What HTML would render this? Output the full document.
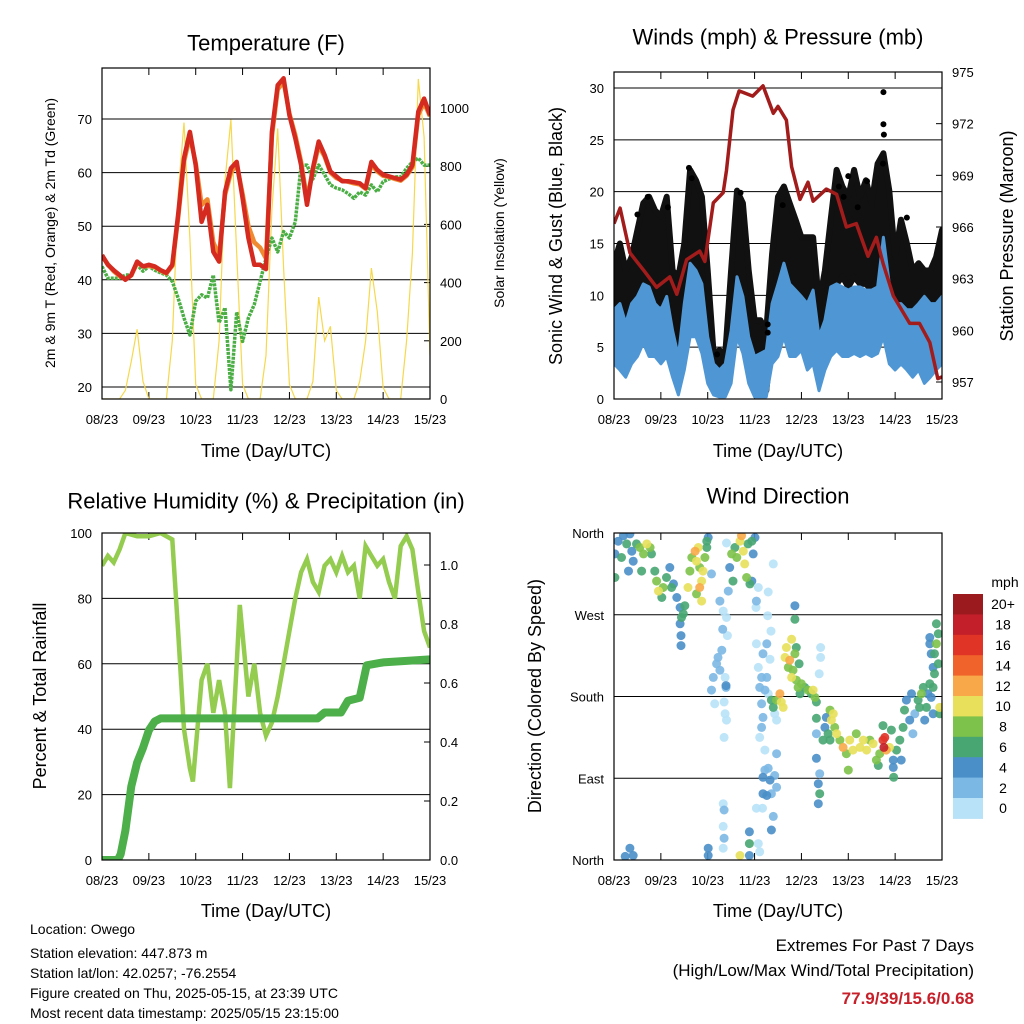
<!DOCTYPE html>
<html><head><meta charset="utf-8">
<style>
html,body{margin:0;padding:0;background:#fff;}
svg{display:block;font-family:"Liberation Sans",sans-serif;}
</style></head>
<body>
<svg id="s" width="1024" height="1024" viewBox="0 0 1024 1024" xmlns="http://www.w3.org/2000/svg">
<rect width="1024" height="1024" fill="#fff"/>
<g id="p1"></g>
<g id="p2"></g>
<g id="p3"></g>
<g id="p4"></g>
<g font-size="14" fill="#000">
<text x="30" y="934">Location: Owego</text>
<text x="30" y="958">Station elevation: 447.873 m</text>
<text x="30" y="978">Station lat/lon: 42.0257; -76.2554</text>
<text x="30" y="998">Figure created on Thu, 2025-05-15, at 23:39 UTC</text>
<text x="30" y="1018">Most recent data timestamp: 2025/05/15 23:15:00</text>
</g>
<g font-size="17" text-anchor="end">
<text x="974" y="951">Extremes For Past 7 Days</text>
<text x="974" y="976">(High/Low/Max Wind/Total Precipitation)</text>
<text x="974" y="1004" font-weight="bold" fill="#c8202a">77.9/39/15.6/0.68</text>
</g>
</svg>
<script>
const xTickLabels = ["08/23","09/23","10/23","11/23","12/23","13/23","14/23","15/23"];
const t8 = [0,0.125,0.25,0.375,0.5,0.625,0.75,0.875,1,1.125,1.25,1.375,1.5,1.625,1.75,1.875,2,2.125,2.25,2.375,2.5,2.625,2.75,2.875,3,3.125,3.25,3.375,3.5,3.625,3.75,3.875,4,4.125,4.25,4.375,4.5,4.625,4.75,4.875,5,5.125,5.25,5.375,5.5,5.625,5.75,5.875,6,6.125,6.25,6.375,6.5,6.625,6.75,6.875,7];
const temp2m = [44.6,42.8,41.8,40.9,40,40.9,43.4,42.5,42.8,42.5,41.8,41.3,42.8,52.1,62.7,67.6,61.4,50.8,54,45.2,43.4,56.4,60.8,62,55.2,47.8,42.8,42.8,42,67.6,76.3,77.6,70.7,66.4,61.4,54,60.8,65.8,63.3,60.2,59.3,58.4,58.4,58.2,58,57.1,62,60.5,59.6,59.3,59,58.7,59.6,61.4,71.4,73.8,70.7];
const temp9m = [44.4,42.9,41.6,40.7,40.1,40.8,43.2,42.5,42.6,42.4,41.7,41.2,42.6,51.5,62,66.8,61.8,54,55,47,44.5,55.8,60,61.5,56,50,47,46,44,66.8,75.5,77,71,67,62,55,60.5,65,63,60,59,58.5,58.3,58,57.8,57,61.5,60.2,59.4,59.2,58.8,58.5,59.4,61,70.8,73,70.5];
const dewpoint = [42.5,40.3,40.3,40.3,40.9,40.9,42.8,41.6,42.5,41.8,41.3,40.9,39.7,36.6,32.9,29.7,36.0,37.2,36.6,40.9,32,34.8,19.5,34,28.5,32.9,35.4,39.7,44,47.8,45.2,49,47.8,50.8,61.4,61.4,58.8,61.4,59.6,57.7,57.1,56.8,56.1,55.2,56.4,55.8,57.7,56.4,58.3,58.8,59.2,59.2,60.8,62,62.7,61.4,61.4];
const solar = [0,0,0,0,30,130,240,60,0,0,0,0,200,700,950,550,50,0,0,0,200,750,960,500,50,0,0,0,150,650,930,450,50,0,0,0,60,350,200,250,30,0,0,0,60,200,450,300,40,0,0,0,200,500,1100,900,150];
const gustHigh = [13.1,15.0,12.4,13.7,16.3,18.9,19.5,18.2,17.6,19.5,12.4,11.8,15.0,22.1,21.1,19.5,12.4,4.4,4.7,4.4,12.4,20.1,18.9,12.4,7.6,7.6,6.6,14.0,19.5,20.5,18.9,17.3,15.6,15.6,15.6,9.2,12.4,17.3,22.1,20.5,19.5,22.1,19.5,21.1,18.9,22.7,23.7,20.1,13.7,17.3,15.0,12.4,13.1,12.4,12.4,13.7,16.3];
const gustLow = [6.0,6.0,5.4,6.6,9.2,11.1,9.9,9.2,9.2,9.9,6.6,4.4,9.2,12.4,13.1,11.1,6.0,1.5,0.8,0.8,6.0,11.1,9.2,4.1,0.8,0.8,0.8,6.0,9.2,10.8,9.2,9.2,9.2,8.6,8.6,4.1,6.6,9.9,11.1,11.8,10.8,11.8,11.1,11.1,10.5,11.8,13.7,9.2,6.6,7.3,6.6,6.0,6.6,6.0,6.6,7.3,9.2];
const windHigh = [8.6,9.2,7.3,9.2,9.9,11.1,10.8,9.2,8.6,9.9,6.6,4.1,9.2,13.1,12.4,11.1,6.0,3.4,2.8,3.4,6.6,11.8,9.9,6.0,4.1,4.4,4.7,9.2,11.1,13.1,11.1,10.5,9.9,9.2,10.5,6.0,7.6,10.8,11.1,10.8,10.5,10.8,10.8,10.5,10.5,10.8,15.6,11.1,9.2,9.2,8.6,8.6,9.2,9.9,9.2,9.2,9.9];
const windLow = [3.4,2.8,2.1,3.4,4.1,5.4,4.1,4.1,3.4,4.1,2.1,0.4,2.8,6.0,6.0,4.4,1.5,0.4,0.2,0.2,1.5,6.0,4.4,1.5,0.2,0.2,0.2,3.4,4.1,6.0,4.1,4.1,4.7,2.8,3.4,0.8,2.8,4.1,4.7,4.1,4.1,4.4,4.1,4.4,4.1,4.4,6.0,3.4,2.8,3.4,2.8,2.1,2.8,1.5,2.1,2.8,3.4];
const gustOutlierTime = [5.75,5.75,5.76,5.74,4.8,4.9,1.6,1.66,0.72,1.15,5.2,6.25,3.6,2.7,3.28,3.28,2.2,5.0,5.4,0.5];
const gustOutlierValue = [29.6,26.5,25.5,22.7,20.5,19.5,22.3,21.3,19.5,18.5,18.5,17.5,18.7,19.9,6.4,7.2,4.3,21.5,21.0,17.8];
const pTime = [0,0.13,0.34,0.63,0.91,1.19,1.34,1.55,1.83,1.94,2.12,2.33,2.40,2.54,2.67,2.96,3.18,3.40,3.50,3.68,3.79,3.97,4.14,4.25,4.53,4.75,4.96,5.17,5.42,5.60,5.74,5.96,6.31,6.52,6.74,6.91,7.0];
const pressure = [966.2,967.1,964.5,963.5,962.5,963.1,962.1,964.1,964.6,964.0,967.4,968,969.3,972.8,973.9,973.6,974.2,972.6,973,972.2,969.5,967.6,968.6,967.5,968.2,967.9,966,966.2,964.3,965.4,963.9,962,960.4,960.4,959.3,957.2,957.3];
const rhTime = [0,0.125,0.25,0.375,0.5,0.75,1,1.25,1.5,1.625,1.75,1.875,1.94,2.125,2.25,2.375,2.5,2.625,2.73,2.875,2.94,3.125,3.25,3.375,3.5,3.625,3.75,3.875,4,4.125,4.25,4.375,4.5,4.625,4.75,4.875,5,5.125,5.25,5.375,5.5,5.625,5.75,5.875,6,6.125,6.25,6.375,6.5,6.625,6.75,6.875,7];
const rhValues = [90,93,91,95,100,99,99,100,98,70,40,28,24,55,60,45,55,45,22,60,78,50,60,45,38,42,50,60,70,80,88,92,85,82,90,92,88,93,88,90,80,96,93,90,92,85,80,96,99,95,82,70,65];
const rainTime = [0,0.34,0.4,0.5,0.625,0.75,0.875,1.0,1.125,1.25,4.6,4.75,5.1,5.25,5.5,5.65,6.0,7.0];
const rainValues = [0,0,0.02,0.1,0.25,0.33,0.38,0.44,0.47,0.48,0.48,0.5,0.5,0.54,0.55,0.66,0.67,0.68];
const speedLevels = ["0","2","4","6","8","10","12","14","16","18","20+"];
const speedColors = ["#b8e2f8","#7cb8e4","#4a8fc8","#48a672","#7dc24a","#e8e05a","#f8a848","#f0632a","#e03427","#c21f2a","#9a1a1e"];
const dirLabels = ["North","East","South","West","North"];
const dirObs = [
[0.02,311,6],[0.02,337,4],[0.09,351,4],[0.16,333,6],[0.20,357,4],[0.27,348,6],[0.34,359,4],[0.38,340,4],[0.41,329,4],[0.48,348,6],[0.55,344,8],[0.63,337,8],[0.70,348,10],[0.77,344,8],[0.80,337,6],[0.59,318,6],[0.31,318,4],
[0.87,318,6],[0.91,307,8],[0.95,296,10],[1.02,289,6],[1.05,300,8],[1.12,311,6],[1.19,322,4],[1.23,300,6],[1.27,304,4],[1.34,289,4],[1.41,278,4],[1.44,267,6],[1.48,271,6],[1.41,260,4],[1.43,247,4],[1.43,236,4],[1.51,280,6],
[1.58,300,10],[1.62,318,8],[1.66,333,8],[1.73,340,12],[1.76,329,10],[1.80,344,10],[1.83,322,8],[1.87,307,10],[1.90,318,10],[1.83,300,12],[1.87,285,10],[1.76,293,8],[1.94,333,8],[1.98,351,6],[2.01,355,4],[1.98,344,6],
[2.47,322,4],[2.51,337,8],[2.58,344,6],[2.62,333,8],[2.69,351,10],[2.72,357,12],[2.76,340,10],[2.79,326,10],[2.83,311,8],[2.86,348,6],[2.94,351,6],[2.97,337,4],[3.01,355,4],[2.90,304,6],[2.94,307,4],[2.54,307,6],
[2.08,315,2],[2.26,285,2],[2.33,274,0],[2.40,267,0],[2.44,296,2],[2.40,349,0],[2.32,254,2],[2.42,247,0],[2.30,231,2],[2.19,216,2],[2.12,201,2],[2.08,187,2],[2.15,172,0],[2.22,223,2],[2.26,209,2],[2.37,201,0],[2.39,190,2],[2.35,174,0],[2.37,161,0],[2.40,154,0],[2.35,135,0],[2.33,62,0],[2.35,55,2],[2.33,37,0],[2.35,24,2],[2.33,13,0],[2.39,192,4],
[3.08,300,0],[3.29,295,0],[3.04,285,2],[3.03,278,0],[3.28,269,0],[3.35,252,0],[3.04,238,0],[3.26,238,2],[3.18,227,2],[3.33,221,0],[3.08,212,0],[3.15,201,2],[3.26,201,2],[3.11,190,2],[3.22,187,2],[3.29,183,0],[3.15,172,2],[3.18,157,2],[3.15,146,2],[3.11,135,0],[3.22,121,0],[3.40,326,0],[3.47,154,0],[3.43,161,0],[3.47,117,2],
[3.18,91,4],[3.22,99,2],[3.29,101,2],[3.18,73,4],[3.26,71,4],[3.36,73,2],[3.47,80,2],[3.43,93,2],[3.33,88,4],[3.04,57,0],[3.17,57,0],[3.40,48,2],[3.36,33,4],[3.08,18,0],[3.11,9,0],[2.89,31,4],[2.89,18,6],[2.89,5,4],[2.69,5,10],[2.01,5,4],[2.01,13,4],[0.24,4,4],[0.34,13,4],[0.41,5,4],
[3.36,176,6],[3.40,168,6],[3.47,176,8],[3.54,183,12],[3.57,174,10],[3.61,168,10],[3.65,223,10],[3.68,234,10],[3.72,212,8],[3.75,220,12],[3.79,201,10],[3.82,209,8],[3.86,227,8],[3.89,198,8],[3.93,190,8],[3.97,183,6],[4.00,194,8],[4.07,190,6],[4.14,187,8],[4.21,183,6],[4.25,187,10],[4.29,179,8],[3.79,243,10],[3.89,234,6],[3.95,216,6],[3.86,280,4],[3.86,265,6],[4.41,234,0],[4.41,223,0],[4.38,205,0],
[4.32,174,6],[4.32,156,6],[4.32,139,2],[4.32,112,4],
[4.46,132,6],[4.50,146,4],[4.53,157,4],[4.61,165,8],[4.64,154,10],[4.68,161,10],[4.71,146,8],[4.75,139,10],[4.57,139,6],[4.61,132,6],
[4.36,84,4],[4.39,73,6],[4.36,62,4],[4.39,95,2],
[4.82,132,8],[4.89,124,12],[4.96,117,8],[5.00,99,8],[5.03,132,10],[5.10,121,10],[5.17,139,8],[5.25,124,10],[5.32,132,10],[5.39,121,10],[5.46,132,8],[5.53,128,10],[5.60,110,8],[5.67,117,8],[5.74,132,16],[5.76,124,18],[5.78,135,16],[5.81,121,12],[5.88,124,10],[5.92,143,6],[5.96,110,4],[5.97,91,6],[5.96,102,4],[6.03,121,6],[6.10,132,6],[6.13,110,4],[5.74,148,6],[5.64,104,6],
[6.17,146,6],[6.20,165,6],[6.24,176,4],[6.31,154,4],[6.35,183,4],[6.38,139,2],[6.42,161,2],[6.49,176,6],[6.52,168,6],[6.56,183,8],[6.60,190,6],[6.63,154,4],[6.67,168,6],[6.70,183,4],[6.74,194,6],[6.77,179,4],[6.81,190,6],[6.84,205,6],[6.81,212,4],[6.84,227,6],[6.88,238,8],[6.92,249,6],[6.88,260,6],[6.92,216,6],[6.77,227,4],[6.74,238,4],[6.74,245,4],[6.95,168,10],[6.95,161,6],[6.81,161,4]
];

const NS="http://www.w3.org/2000/svg";
function mk(parent, tag, attrs, text){
  const e=document.createElementNS(NS,tag);
  for(const k in attrs) e.setAttribute(k,attrs[k]);
  if(text!==undefined) e.textContent=text;
  parent.appendChild(e); return e;
}
function lin(d0,d1,r0,r1){return v=>r0+(v-d0)*(r1-r0)/(d1-d0);}
function pathOf(xs,ys,fx,fy){return xs.map((x,i)=>(i?'L':'M')+fx(x).toFixed(1)+','+fy(ys[i]).toFixed(1)).join('');}
function frame(g,L,T,R,B,leftTicks,fyL,leftFmt,rightTicks,fyR,rightFmt,fx){
  leftTicks.forEach(v=>{
    const y=fyL(v);
    const gl=mk(g,'line',{x1:L,x2:R,y1:y,y2:y,stroke:'#000','stroke-width':1});
    
    
    const t=mk(g,'text',{x:L-10,y:y+5,'text-anchor':'end','font-size':13},leftFmt(v));
    
    
  });
  if(rightTicks) rightTicks.forEach(v=>{
    const y=fyR(v);
    mk(g,'line',{x1:R-6,x2:R,y1:y,y2:y,stroke:'#000','stroke-width':1});
    const t=mk(g,'text',{x:R+10,y:y+5,'font-size':13},rightFmt(v));
    
    
  });
  xTickLabels.forEach((lab,i)=>{
    const x=fx(i);
    mk(g,'line',{x1:x,x2:x,y1:B,y2:B-7,stroke:'#000','stroke-width':1});
    mk(g,'line',{x1:x,x2:x,y1:T,y2:T+7,stroke:'#000','stroke-width':1});
    const t=mk(g,'text',{x:x,y:B+25,'text-anchor':'middle','font-size':13},lab);
    
    
  });
}
function border(g,L,T,R,B){
  const r=mk(g,'rect',{x:L,y:T,width:R-L,height:B-T,fill:'none',stroke:'#000','stroke-width':1.2});
  
  
}
function label(g,x,y,txt,size,rot,name){
  const t=mk(g,'text',{x:x,y:y,'text-anchor':'middle','font-size':size,'dominant-baseline':'central'},txt);
  if(rot) t.setAttribute('transform','rotate(-90 '+x+' '+y+')');
  
  
}

// Panel 1: temperature
(function(){
  const g=document.getElementById('p1');
  const L=102,R=430,T=68,B=399;
  const fx=lin(0,7,L,R), fy=lin(20,70,387,119), fs=lin(0,1000,399,108);
  const clip=mk(g,'clipPath',{id:'c1'}); mk(clip,'rect',{x:L,y:T,width:R-L,height:B-T});
  frame(g,L,T,R,B,[20,30,40,50,60,70],fy,v=>v,[0,200,400,600,800,1000],fs,v=>v,fx);
  const d=mk(g,'g',{'clip-path':'url(#c1)'});
  const s=mk(d,'path',{d:pathOf(t8,solar,fx,fs),fill:'none',stroke:'#f6d84c','stroke-width':1.2});
   
  const gd=mk(d,'path',{d:pathOf(t8,dewpoint,fx,fy),fill:'none',stroke:'#4aae44','stroke-width':3.5,'stroke-dasharray':'3 1','stroke-linejoin':'round'});
   
  const o=mk(d,'path',{d:pathOf(t8,temp9m,fx,fy),fill:'none',stroke:'#f08a30','stroke-width':4.5,'stroke-linejoin':'round'});
   
  const r=mk(d,'path',{d:pathOf(t8,temp2m,fx,fy),fill:'none',stroke:'#d42a20','stroke-width':4.5,'stroke-linejoin':'round'});
   
  border(g,L,T,R,B);
  label(g,266,43,'Temperature (F)',22,false,'temperature-title');
  label(g,50,233,'2m & 9m T (Red, Orange) & 2m Td (Green)',14,true,'temperature-y-title');
  label(g,499,233,'Solar Insolation (Yellow)',14,true,'solar-y-title');
  label(g,266,451,'Time (Day/UTC)',18,false,'x-axis-title');
})();

// Panel 2: winds
(function(){
  const g=document.getElementById('p2');
  const L=614,R=942,T=72,B=399;
  const fx=lin(0,7,L,R), fy=lin(0,30,399,88), fp=lin(957,975,382,72);
  const clip=mk(g,'clipPath',{id:'c2'}); mk(clip,'rect',{x:L,y:T,width:R-L,height:B-T});
  frame(g,L,T,R,B,[0,5,10,15,20,25,30],fy,v=>v,[957,960,963,966,969,972,975],fp,v=>v,fx);
  const d=mk(g,'g',{'clip-path':'url(#c2)'});
  function band(lo,hi,col,name,w){
    const idx=t8.map((t,i)=>i);
    const p='M'+idx.map(i=>fx(t8[i]).toFixed(1)+','+fy(hi[i]).toFixed(1)).join('L')+'L'+idx.slice().reverse().map(i=>fx(t8[i]).toFixed(1)+','+fy(lo[i]).toFixed(1)).join('L')+'Z';
    const e=mk(d,'path',{d:p,fill:col,stroke:col,'stroke-width':w,'stroke-linejoin':'round'});
     
  }
  band(gustLow,gustHigh,'#111','gust-band',6);
  band(windLow,windHigh,'#4f97d4','wind-band',3);
  gustOutlierTime.forEach((t,i)=>{
    const c=mk(d,'circle',{cx:fx(t),cy:fy(gustOutlierValue[i]),r:3,fill:'#000'});
     
  });
  const p=mk(d,'path',{d:pathOf(pTime,pressure,fx,fp),fill:'none',stroke:'#a31c1c','stroke-width':3.5,'stroke-linejoin':'round'});
   
  border(g,L,T,R,B);
  label(g,778,37,'Winds (mph) & Pressure (mb)',22,false,'winds-title');
  label(g,556,236,'Sonic Wind & Gust (Blue, Black)',18,true,'wind-y-title');
  label(g,1007,236,'Station Pressure (Maroon)',18,true,'pressure-y-title');
  label(g,778,451,'Time (Day/UTC)',18,false,'x-axis-title');
})();

// Panel 3: humidity
(function(){
  const g=document.getElementById('p3');
  const L=102,R=430,T=533,B=860;
  const fx=lin(0,7,L,R), fy=lin(0,100,860,533), fr=lin(0,1,860,565);
  const clip=mk(g,'clipPath',{id:'c3'}); mk(clip,'rect',{x:L,y:T,width:R-L,height:B-T});
  frame(g,L,T,R,B,[0,20,40,60,80,100],fy,v=>v,[0,0.2,0.4,0.6,0.8,1.0],fr,v=>v.toFixed(1),fx);
  const d=mk(g,'g',{'clip-path':'url(#c3)'});
  const rh=mk(d,'path',{d:pathOf(rhTime,rhValues,fx,fy),fill:'none',stroke:'#93cc4e','stroke-width':4.5});
   
  const rn=mk(d,'path',{d:pathOf(rainTime,rainValues,fx,fr),fill:'none',stroke:'#4caf4a','stroke-width':8,'stroke-linejoin':'round'});
   
  border(g,L,T,R,B);
  label(g,266,501,'Relative Humidity (%) & Precipitation (in)',22,false,'humidity-title');
  label(g,40,696,'Percent & Total Rainfall',18,true,'humidity-y-title');
  label(g,266,911,'Time (Day/UTC)',18,false,'x-axis-title');
})();

// Panel 4: wind direction
(function(){
  const g=document.getElementById('p4');
  const L=614,R=942,T=533,B=860;
  const fx=lin(0,7,L,R), fy=lin(0,360,860,533);
  const clip=mk(g,'clipPath',{id:'c4'}); mk(clip,'rect',{x:L,y:T,width:R-L,height:B-T});
  frame(g,L,T,R,B,[0,90,180,270,360],fy,v=>dirLabels[v/90],null,null,null,fx);
  const d=mk(g,'g',{'clip-path':'url(#c4)'});
  const order=dirObs.map((o,i)=>i).sort((a,b)=>dirObs[a][2]-dirObs[b][2]);
  order.forEach(i=>{
    const o=dirObs[i];
    const ci=Math.min(10,Math.round(o[2]/2));
    const c=mk(d,'circle',{cx:fx(o[0]).toFixed(1),cy:fy(o[1]).toFixed(1),r:4.5,fill:speedColors[ci],'fill-opacity':0.9});
    
    
  });
  border(g,L,T,R,B);
  label(g,778,496,'Wind Direction',22,false,'direction-title');
  label(g,535,696,'Direction (Colored By Speed)',18,true,'direction-y-title');
  label(g,778,911,'Time (Day/UTC)',18,false,'x-axis-title');
  const lg=mk(g,'g',{});
  
  
  const h=20.4, top=594;
  speedLevels.forEach((lab,i)=>{
    const k=10-i;
    const y=top+i*h;
    const r=mk(lg,'rect',{x:953,y:y,width:30,height:h+0.5,fill:speedColors[k]});
    
    
    const t=mk(lg,'text',{x:1003,y:y+h/2+5,'text-anchor':'middle','font-size':14},speedLevels[k]);
    
    
  });
  const u=mk(lg,'text',{x:1005,y:587,'text-anchor':'middle','font-size':14},'mph');
  
  
})();
</script>
</body></html>
